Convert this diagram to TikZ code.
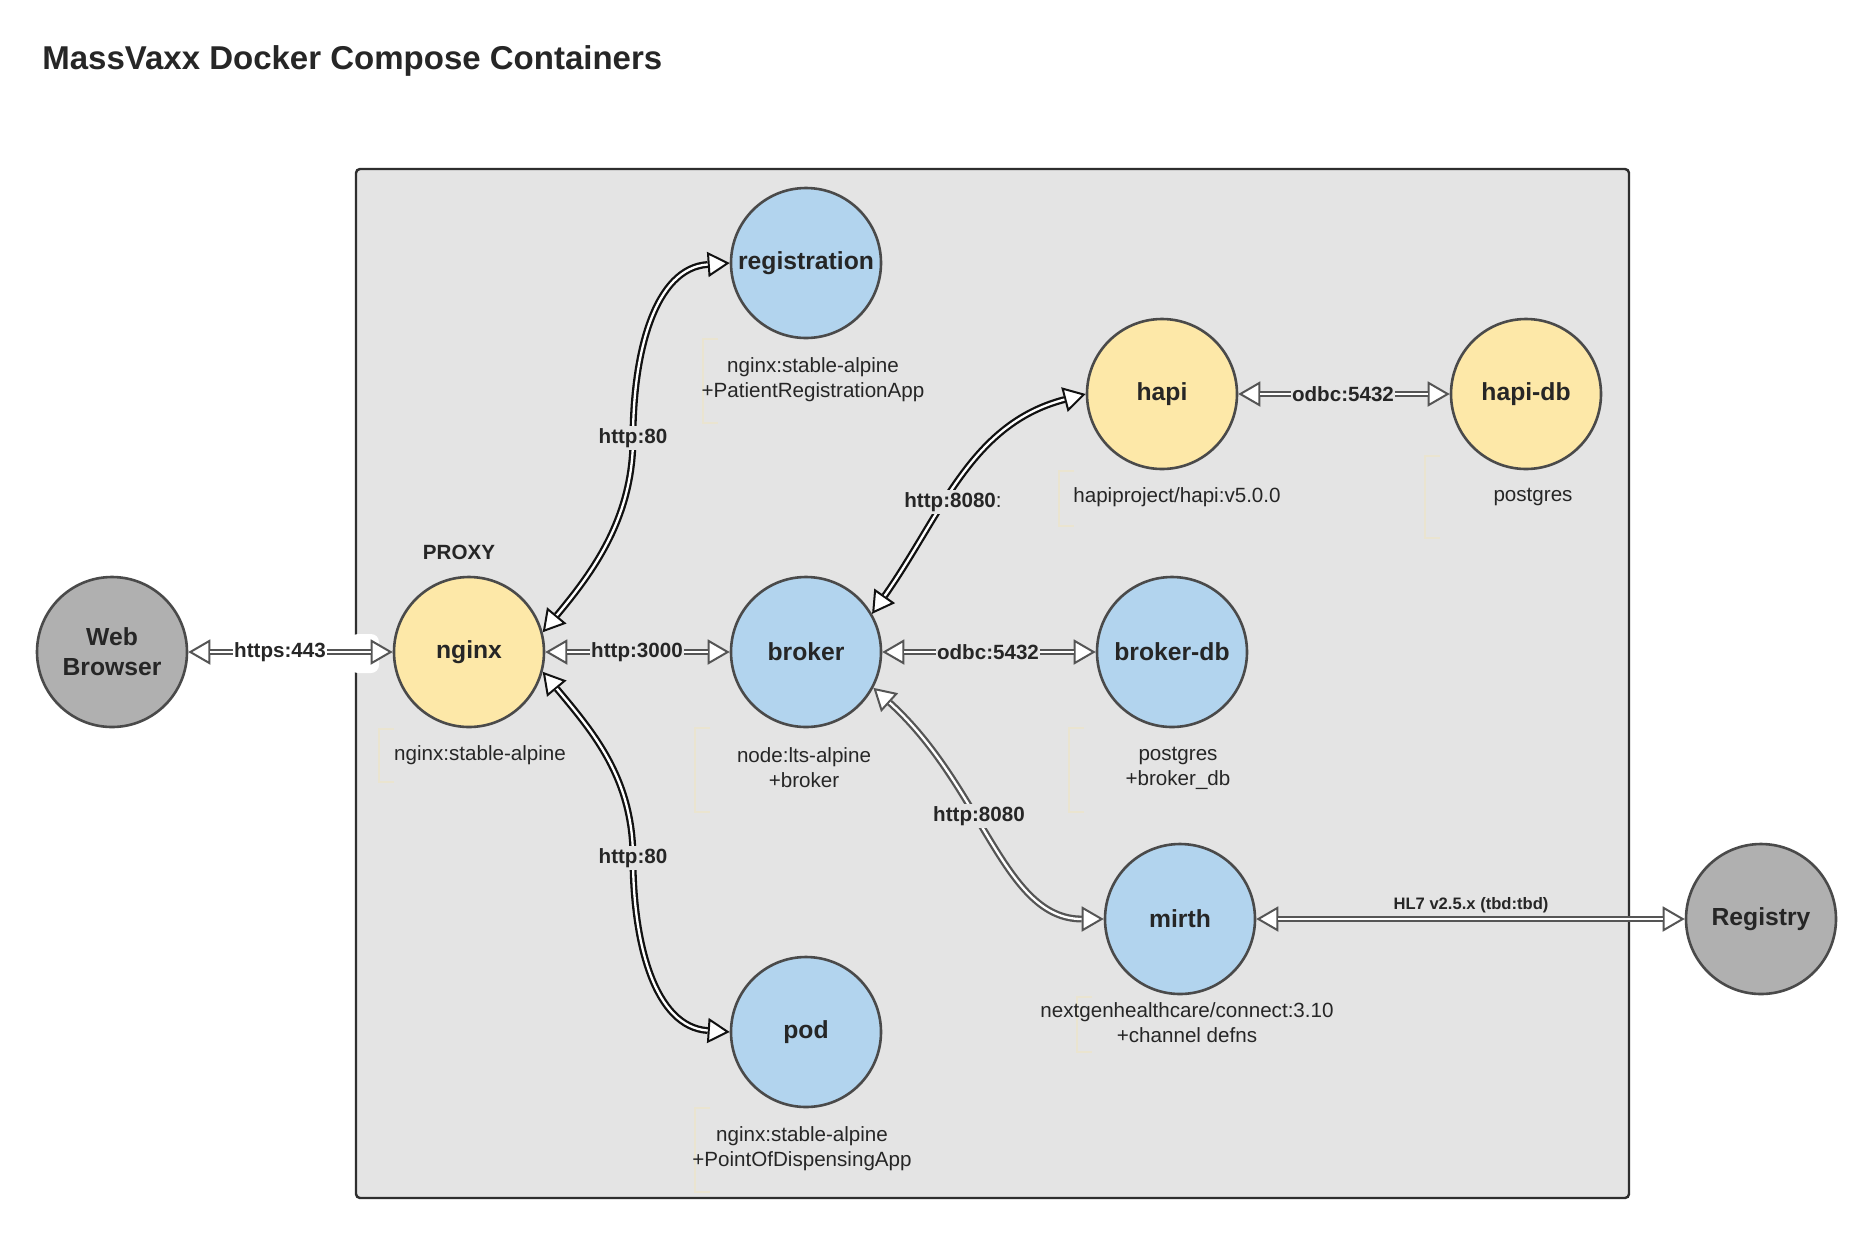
\documentclass[tikz,border=0pt]{standalone}
\usepackage{fontspec}
\setmainfont{Liberation Sans}
\usetikzlibrary{arrows.meta}
\definecolor{boxfill}{HTML}{E4E4E4}
\definecolor{boxline}{HTML}{2E2E2E}
\definecolor{nodeline}{HTML}{4A4A4A}
\definecolor{bluefill}{HTML}{B2D4EE}
\definecolor{yellowfill}{HTML}{FDE8A8}
\definecolor{grayfill}{HTML}{B0B0B0}
\definecolor{txt}{HTML}{262626}
\definecolor{darkconn}{HTML}{111111}
\definecolor{grayconn}{HTML}{555555}
\definecolor{bracketcol}{HTML}{EAE4D0}
\newcommand{\dlink}[4]{%
  \draw[tipline, draw=#1] (#2) #3 (#4);
  \draw[dblline, draw=#1] (#2) #3 (#4);}
\begin{document}
\begin{tikzpicture}[x=0.5pt,y=-0.5pt,
  >={Triangle[fill=white,length=11pt,width=12.5pt]},
  tipline/.style={line width=1pt, <->},
  dblline/.style={line width=1.15pt, double=white, double distance=1.15pt, shorten <=11pt, shorten >=11pt},
  svc/.style={circle, draw=nodeline, line width=1.3pt, minimum size=75pt, inner sep=0pt, text=txt, font=\fontsize{12.35}{15}\selectfont\bfseries, align=center},
  bluesvc/.style={svc, fill=bluefill},
  yellowsvc/.style={svc, fill=yellowfill},
  graysvc/.style={svc, fill=grayfill},
  sublab/.style={font=\fontsize{10.3}{12.5}\selectfont, text=txt, align=center, inner sep=0pt},
  elab/.style={fill=boxfill, inner xsep=0.6pt, inner ysep=1pt, font=\fontsize{10.3}{12}\selectfont\bfseries, text=txt},
  brk/.style={draw=bracketcol, line width=0.6pt}]
\useasboundingbox (0,0) rectangle (1875,1238);
\fill[white] (0,0) rectangle (1875,1238);
% title
\node[anchor=west, inner sep=0pt, font=\fontsize{16.5}{20}\selectfont\bfseries, text=txt] (title) at (42,61) {MassVaxx Docker Compose Containers};
% container
\draw[draw=boxline, fill=boxfill, line width=1.2pt, rounded corners=2pt] (356,169) rectangle (1629,1198);
\fill[white, rounded corners=4pt] (350,634) rectangle (379,673);
% brackets
\foreach \bx/\ya/\yb in {379/729/782, 703/339/423, 1059/471/526, 1425/456/538, 695/728/812, 1069/728/812, 1077/997/1052, 695/1108/1192}
  \draw[brk] (\bx+15,\ya) -- (\bx,\ya) -- (\bx,\yb) -- (\bx+15,\yb);
% services
\node[graysvc] (wb) at (112,652) {Web\\Browser};
\node[yellowsvc] (nginx) at (469,652) {nginx};
\node[bluesvc] (reg) at (806,263) {registration};
\node[bluesvc] (broker) at (806,652) {broker};
\node[bluesvc] (pod) at (806,1032) {pod};
\node[yellowsvc] (hapi) at (1162,394) {hapi};
\node[yellowsvc] (hapidb) at (1526,394) {hapi-db};
\node[bluesvc] (brokerdb) at (1172,652) {broker-db};
\node[bluesvc] (mirth) at (1180,919) {mirth};
\node[graysvc] (registry) at (1761,919) {Registry};
\node[font=\fontsize{10.3}{12}\selectfont\bfseries, text=txt] (proxy) at (459,552) {PROXY};
% sub labels
\node[sublab] (nginxsub) at (480,755) {nginx:stable-alpine};
\node[sublab] (regsub) at (813,380) {nginx:stable-alpine\\+PatientRegistrationApp};
\node[sublab] (hapisub) at (1177,497) {hapiproject/hapi:v5.0.0};
\node[sublab] (hapidbsub) at (1533,497) {postgres};
\node[sublab] (brokersub) at (804,768) {node:lts-alpine\\+broker};
\node[sublab] (brokerdbsub) at (1178,768) {postgres\\+broker\_db};
\node[sublab] (mirthsub) at (1187,1023) {nextgenhealthcare/connect:3.10\\+channel defns};
\node[sublab] (podsub) at (802,1149) {nginx:stable-alpine\\+PointOfDispensingApp};
% bend coordinates
\coordinate (b1) at (633,438);
\coordinate (b2) at (633,858);
% connectors
\dlink{grayconn}{wb}{--}{nginx}
\dlink{grayconn}{nginx}{--}{broker}
\dlink{grayconn}{broker}{--}{brokerdb}
\dlink{grayconn}{hapi}{--}{hapidb}
\dlink{grayconn}{mirth}{--}{registry}
\dlink{darkconn}{nginx.15}{.. controls +(50,-60) and +(0,80) .. (b1) .. controls +(0,-85) and +(-75,5) ..}{reg.west}
\dlink{darkconn}{nginx.-15}{.. controls +(50,60) and +(0,-80) .. (b2) .. controls +(0,85) and +(-75,-5) ..}{pod.west}
\dlink{darkconn}{broker.30}{.. controls +(70,-100) and +(-115,30) ..}{hapi.west}
\dlink{grayconn}{broker.-28}{.. controls +(110,100) and +(-100,0) ..}{mirth.west}
% connector labels
\node[elab, fill=white] (l1) at (280,652) {https:443};
\node[elab] (l2) at (637,652) {http:3000};
\node[elab] (l3) at (988,652) {odbc:5432};
\node[elab] (l4) at (1343,394) {odbc:5432};
\node[elab] (l5) at (633,438) {http:80};
\node[elab] (l6) at (633,858) {http:80};
\node[elab] (l7) at (953,502) {http:8080\textmd{:}};
\node[elab] (l8) at (979,816) {http:8080};
\node[font=\fontsize{8.3}{10}\selectfont\bfseries, text=txt, inner sep=0pt] (l9) at (1471,905) {HL7 v2.5.x (tbd:tbd)};
\end{tikzpicture}
\end{document}
